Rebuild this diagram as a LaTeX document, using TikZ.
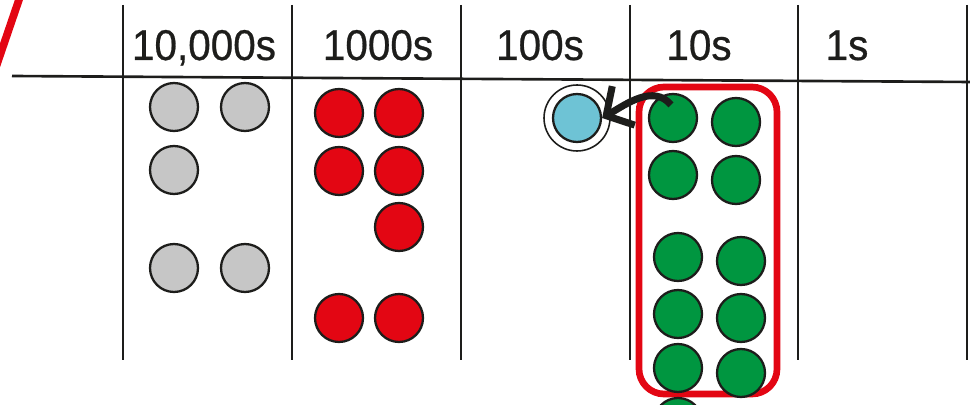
\documentclass[tikz,border=0pt]{standalone}
\usepackage{fontspec}
\newfontfamily\headfont[FakeStretch=0.94,FakeBold=0.6]{Liberation Sans}
\usetikzlibrary{arrows.meta}

\definecolor{inkblack}{HTML}{1D1D1B}
\definecolor{countgrey}{HTML}{C6C6C6}
\definecolor{countred}{HTML}{E30613}
\definecolor{countgreen}{HTML}{009640}
\definecolor{countblue}{HTML}{6EC3D5}

\tikzset{
	counter node/.style = {
		circle,
		draw = inkblack,
		line width = 1.3pt,
		minimum size = 0.96cm,
		inner sep = 0pt
	},
	grey node/.style = {
		counter node,
		fill = countgrey
	},
	red node/.style = {
		counter node,
		fill = countred
	},
	green node/.style = {
		counter node,
		fill = countgreen
	},
	blue node/.style = {
		counter node,
		fill = countblue
	},
	ring node/.style = {
		circle,
		draw = inkblack,
		line width = 0.9pt,
		minimum size = 1.32cm,
		inner sep = 0pt
	},
	head node/.style = {
		anchor = base,
		inner sep = 0pt,
		text = inkblack,
		font = \headfont\fontsize{24.5}{28}\selectfont
	},
	grid line/.style = {
		draw = inkblack,
		line width = 1.1pt
	},
	exchange box/.style = {
		draw = countred,
		line width = 3.8pt,
		rounded corners = 0.5cm
	},
	move arrow/.style = {
		draw = inkblack,
		line width = 4pt,
		-{Straight Barb[length=4mm,width=9mm]}
	}
}

\begin{document}
\begin{tikzpicture}[x=0.02cm, y=-0.02cm]
							\clip (0,0) rectangle (970,405);
							\draw[countred, line width=4.4pt] (-4,67) -- (23,-12);
							\foreach \x in {123,292,461,630,798,967}
								\draw[grid line] (\x,5) -- (\x,360);
							\draw[grid line, line width=1.5pt] (12,76) -- (972,82);
							\node at (204,60) [head node] (h1) {10,000s};
							\node at (378,60) [head node] (h2) {1000s};
							\node at (540,60) [head node] (h3) {100s};
							\node at (699,60) [head node] (h4) {10s};
							\node at (847,60) [head node] (h5) {1s};
							\node at (174,107) [grey node] (g1) {};
							\node at (245,107) [grey node] (g2) {};
							\node at (174,170) [grey node] (g3) {};
							\node at (174,268) [grey node] (g4) {};
							\node at (245,268) [grey node] (g5) {};
							\node at (339,113) [red node] (r1) {};
							\node at (399,113) [red node] (r2) {};
							\node at (339,171) [red node] (r3) {};
							\node at (399,171) [red node] (r4) {};
							\node at (399,227) [red node] (r5) {};
							\node at (339,318) [red node] (r6) {};
							\node at (399,318) [red node] (r7) {};
							\draw[exchange box] (639,87) rectangle (777,394);
							\node at (673,118) [green node] (t1) {};
							\node at (736,122) [green node] (t2) {};
							\node at (673,175) [green node] (t3) {};
							\node at (736,180) [green node] (t4) {};
							\node at (678,257) [green node] (t5) {};
							\node at (741,261) [green node] (t6) {};
							\node at (678,314) [green node] (t7) {};
							\node at (741,318) [green node] (t8) {};
							\node at (678,368) [green node] (t9) {};
							\node at (741,373) [green node] (t10) {};
							\node at (678,422) [green node] (t11) {};
							\node at (577,118) [blue node] (b1) {};
							\node at (b1.center) [ring node] (o1) {};
							\draw[move arrow] ([shift={(-2,12)}]t1.north) to[out=130, in=30] (b1.east);
						\end{tikzpicture}
\end{document}
